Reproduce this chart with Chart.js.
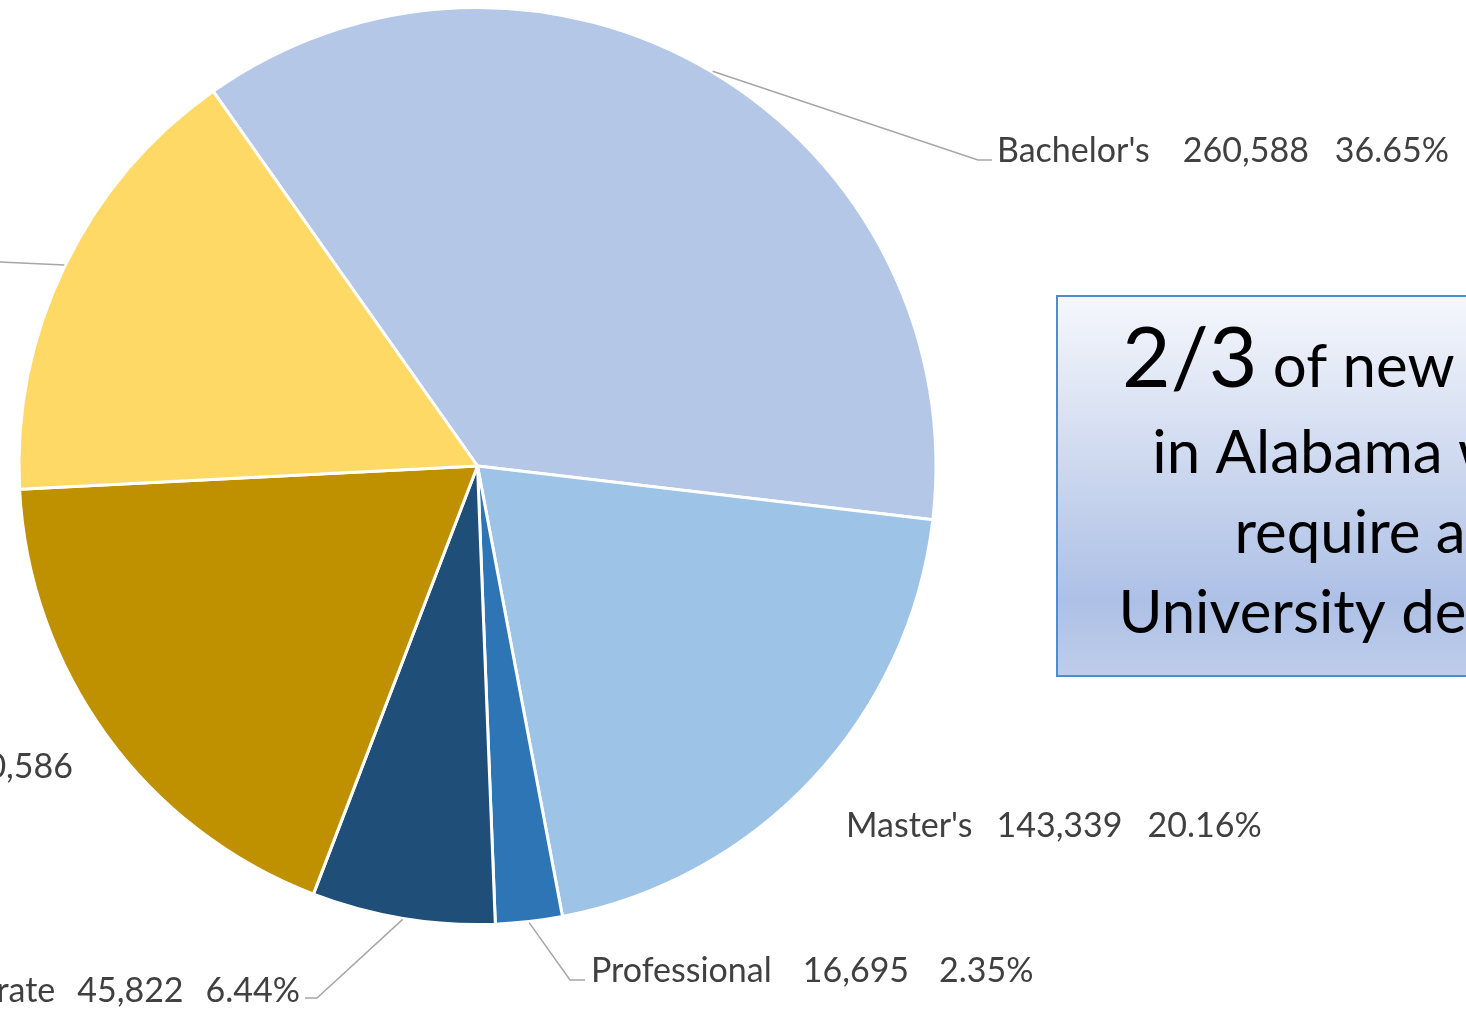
<!DOCTYPE html>
<html>
<head>
<meta charset="utf-8">
<script src="https://cdn.jsdelivr.net/npm/chart.js@4.4.1/dist/chart.umd.min.js"></script>
<style>
  html, body { margin: 0; padding: 0; background: #ffffff; overflow: hidden; }
  #wrap { position: relative; width: 1466px; height: 1010px; }
  canvas { display: block; }
</style>
</head>
<body>
<div id="wrap"><canvas id="c" width="1466" height="1010"></canvas></div>
<script>
// ---- data ----
const categories = ["Bachelor's", "Master's", "Professional", "Doctorate", "Associate's", "Some College"];
const newJobs = [260588, 143339, 16695, 45822, 130586, 113980];
const sliceColors = ["#B4C7E7", "#9DC3E6", "#2E75B6", "#1F4E79", "#BF9000", "#FFD966"];
const calloutLines = [
  [{ t: "2/3", big: true }, { t: " of new jobs", big: false }],
  [{ t: "in Alabama will", big: false }],
  [{ t: "require a", big: false }],
  [{ t: "University degree", big: false }]
];

// ---- layout (label placement, not data) ----
const labelLayout = [
  { x: 997, y: 162, align: 'left', gaps: [33, 26], leader: [[978, 160], [992, 160]] },
  { x: 846, y: 837, align: 'left', gaps: [24, 25], leader: null },
  { x: 591, y: 982, align: 'left', gaps: [31, 30], leader: [[570, 980], [585, 980]] },
  { x: 300, y: 1002, align: 'right', gaps: [22, 22], leader: [[317, 998], [305, 998]] },
  { x: 73, y: 778, align: 'wrap', gaps: [26, 0], leader: null },
  { x: -30, y: 272, align: 'right', gaps: [26, 24], leader: [[-20, 261]] }
];
const LABEL_FONT = "34px Lato";
const LABEL_COLOR = "#404040";
const LEADER_COLOR = "#A6A6A6";

const total = newJobs.reduce((a, b) => a + b, 0);
const fmt = v => v.toLocaleString('en-US');
const pctText = v => (v / total * 100).toFixed(2) + '%';

const labelPlugin = {
  id: 'sliceLabels',
  afterDatasetsDraw(chart) {
    const ctx = chart.ctx;
    const meta = chart.getDatasetMeta(0);
    ctx.save();
    ctx.font = LABEL_FONT;
    ctx.fillStyle = LABEL_COLOR;
    ctx.textBaseline = 'alphabetic';
    meta.data.forEach((arc, i) => {
      const p = arc.getProps(['x', 'y', 'startAngle', 'endAngle', 'outerRadius'], true);
      const mid = (p.startAngle + p.endAngle) / 2;
      const L = labelLayout[i];
      if (L.leader) {
        const r = p.outerRadius + 1;
        ctx.beginPath();
        ctx.moveTo(p.x + Math.cos(mid) * r, p.y + Math.sin(mid) * r);
        L.leader.forEach(pt => ctx.lineTo(pt[0], pt[1]));
        ctx.strokeStyle = LEADER_COLOR;
        ctx.lineWidth = 1.5;
        ctx.stroke();
      }
      const parts = [categories[i], fmt(newJobs[i]), pctText(newJobs[i])];
      const w = parts.map(s => ctx.measureText(s).width);
      if (L.align === 'wrap') {
        const w1 = w[0] + L.gaps[0] + w[1];
        const x0 = L.x - w1;
        ctx.fillText(parts[0], x0, L.y);
        ctx.fillText(parts[1], x0 + w[0] + L.gaps[0], L.y);
        ctx.textAlign = 'center';
        ctx.fillText(parts[2], x0 + w1 / 2, L.y + 40);
        ctx.textAlign = 'left';
        return;
      }
      const totalW = w[0] + L.gaps[0] + w[1] + L.gaps[1] + w[2];
      let x = L.align === 'left' ? L.x : L.x - totalW;
      ctx.fillText(parts[0], x, L.y); x += w[0] + L.gaps[0];
      ctx.fillText(parts[1], x, L.y); x += w[1] + L.gaps[1];
      ctx.fillText(parts[2], x, L.y);
    });
    ctx.restore();
  }
};

const calloutPlugin = {
  id: 'callout',
  afterDraw(chart) {
    const ctx = chart.ctx;
    ctx.save();
    const bx = 1057, by = 296, bw = 600, bh = 380;
    const g = ctx.createLinearGradient(0, by, 0, by + bh);
    g.addColorStop(0, '#F5F7FC');
    g.addColorStop(0.45, '#CDD8EF');
    g.addColorStop(0.8, '#ADC0E6');
    g.addColorStop(1, '#BFCDEA');
    ctx.fillStyle = g;
    ctx.fillRect(bx, by, bw, bh);
    ctx.strokeStyle = '#4A8FD6';
    ctx.lineWidth = 2;
    ctx.strokeRect(bx, by, bw, bh);
    const cx = 1350;
    const baselines = [387, 473, 553, 633];
    const bigFont = '84px Lato', smallFont = '60px Lato';
    ctx.fillStyle = '#000000';
    ctx.textBaseline = 'alphabetic';
    calloutLines.forEach((line, li) => {
      const widths = line.map(s => { ctx.font = s.big ? bigFont : smallFont; return ctx.measureText(s.t).width; });
      const tw = widths.reduce((a, b) => a + b, 0);
      let x = cx - tw / 2;
      line.forEach((s, k) => {
        ctx.font = s.big ? bigFont : smallFont;
        ctx.fillText(s.t, x, baselines[li]);
        x += widths[k];
      });
    });
    ctx.restore();
  }
};

new Chart(document.getElementById('c'), {
  type: 'pie',
  data: {
    labels: categories,
    datasets: [{
      data: newJobs,
      backgroundColor: sliceColors,
      borderColor: '#ffffff',
      borderWidth: 3
    }]
  },
  options: {
    responsive: false,
    animation: false,
    rotation: -35.2,
    layout: { padding: { left: 17.5, top: 6, right: 528.5, bottom: 84 } },
    plugins: { legend: { display: false }, tooltip: { enabled: false } }
  },
  plugins: [labelPlugin, calloutPlugin]
});
</script>
</body>
</html>
